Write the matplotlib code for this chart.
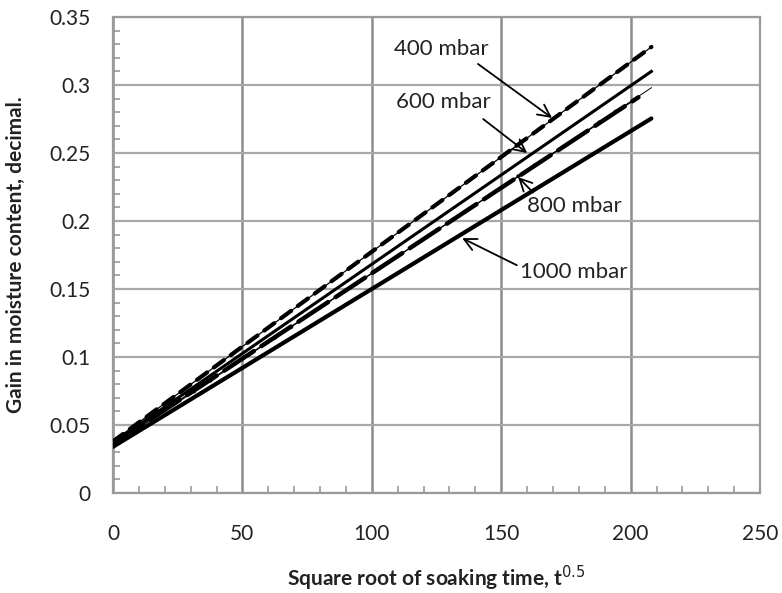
import matplotlib
matplotlib.use("Agg")
import matplotlib.pyplot as plt
import numpy as np

plt.rcParams['font.family'] = ['Lato', 'DejaVu Sans']

# ─── Datos ────────────────────────────────────────────────────────────────────
x_400 = [0, 208]
y_400 = [0.038, 0.328]
x_600 = [0, 208]
y_600 = [0.037, 0.310]
x_800a = [0, 208]
y_800a = [0.035, 0.298]
x_800b = [0, 203]
y_800b = [0.036, 0.291]
x_1000 = [0, 208]
y_1000 = [0.034, 0.2754]

x_ticks = [0, 50, 100, 150, 200, 250]
y_ticks = [0, 0.05, 0.1, 0.15, 0.2, 0.25, 0.3, 0.35]
y_ticklabels = ['0', '0.05', '0.1', '0.15', '0.2', '0.25', '0.3', '0.35']

# etiquetas: texto, posición del texto, punta de flecha, inicio de flecha
labels = ['400 mbar', '600 mbar', '800 mbar', '1000 mbar']
label_xy = [(108.6, 0.3266), (109.4, 0.2875), (160, 0.211), (157.3, 0.1624)]
arrow_tip = [(169.6, 0.2758), (160, 0.250), (156.5, 0.2323), (134.9, 0.1874)]
arrow_from = [(141, 0.3155), (143, 0.275), (162.3, 0.221), (156, 0.1675)]

GRID = '#9a9a9a'

fig = plt.figure(figsize=(7.82, 5.93), dpi=100)
ax = fig.add_axes([0.1445, 0.1686, 0.8275, 0.8027])

# ─── Series ───────────────────────────────────────────────────────────────────
# 400 mbar: trazos gruesos cortos sobre línea fina
ax.plot(x_400, y_400, color='black', lw=0.9, zorder=3)
ax.plot(x_400, y_400, color='black', lw=3.0, dashes=(3.0, 2.0),
        dash_capstyle='round', zorder=3)
# 600 mbar: continua media
ax.plot(x_600, y_600, color='black', lw=2.2, zorder=3)
# 800 mbar: línea fina con puntos
ax.plot(x_800a, y_800a, color='black', lw=0.7, zorder=3)
ax.plot(x_800a, y_800a, color='black', lw=2.8, dashes=(0.01, 5.0, 0.01, 20),
        dash_capstyle='round', zorder=3)
# trazos largos gruesos
ax.plot(x_800b, y_800b, color='black', lw=0.9, zorder=3)
ax.plot(x_800b, y_800b, color='black', lw=3.2, dashes=(8, 2),
        dash_capstyle='round', zorder=3)
# 1000 mbar: continua gruesa
ax.plot(x_1000, y_1000, color='black', lw=3.0, solid_capstyle='round', zorder=3)

# ─── Anotaciones ──────────────────────────────────────────────────────────────
for txt, pos, tip, start in zip(labels, label_xy, arrow_tip, arrow_from):
    ax.text(pos[0], pos[1], txt, fontsize=16, ha='left', va='center',
            color='#222222', zorder=4)
    ax.annotate('', xy=tip, xytext=start,
                arrowprops=dict(arrowstyle='->', color='black', lw=1.3,
                                mutation_scale=22, shrinkA=0, shrinkB=0),
                zorder=4)

# ─── Ejes ─────────────────────────────────────────────────────────────────────
ax.set_xlim(0, 250)
ax.set_ylim(0, 0.35)
ax.set_xticks(x_ticks)
ax.set_yticks(y_ticks)
ax.set_yticklabels(y_ticklabels)
ax.set_xticks(np.arange(0, 251, 10), minor=True)
ax.set_yticks(np.arange(0, 0.351, 0.01), minor=True)
ax.tick_params(which='both', direction='in', color=GRID, width=1.2)
ax.tick_params(which='major', length=0, labelsize=15, labelcolor='#222222')
ax.tick_params(which='minor', length=5)
ax.tick_params(axis='x', which='major', pad=22)
ax.tick_params(axis='y', which='major', pad=16)

ax.grid(True, which='major', axis='x', color='#8c8c8c', lw=1.8)
ax.grid(True, which='major', axis='y', color='#a8a8a8', lw=1.6)
ax.set_axisbelow(True)
for s in ax.spines.values():
    s.set_color(GRID)
    s.set_linewidth(1.6)

ax.set_xlabel('Square root of soaking time, t$^{0.5}$', fontsize=15,
              fontweight='bold', color='#222222')
ax.set_ylabel('Gain in moisture content, decimal.', fontsize=15,
              fontweight='bold', color='#222222')
ax.xaxis.set_label_coords(0.5, -0.148)
ax.yaxis.set_label_coords(-0.135, 0.5)

fig.savefig('out.png', dpi=100)
